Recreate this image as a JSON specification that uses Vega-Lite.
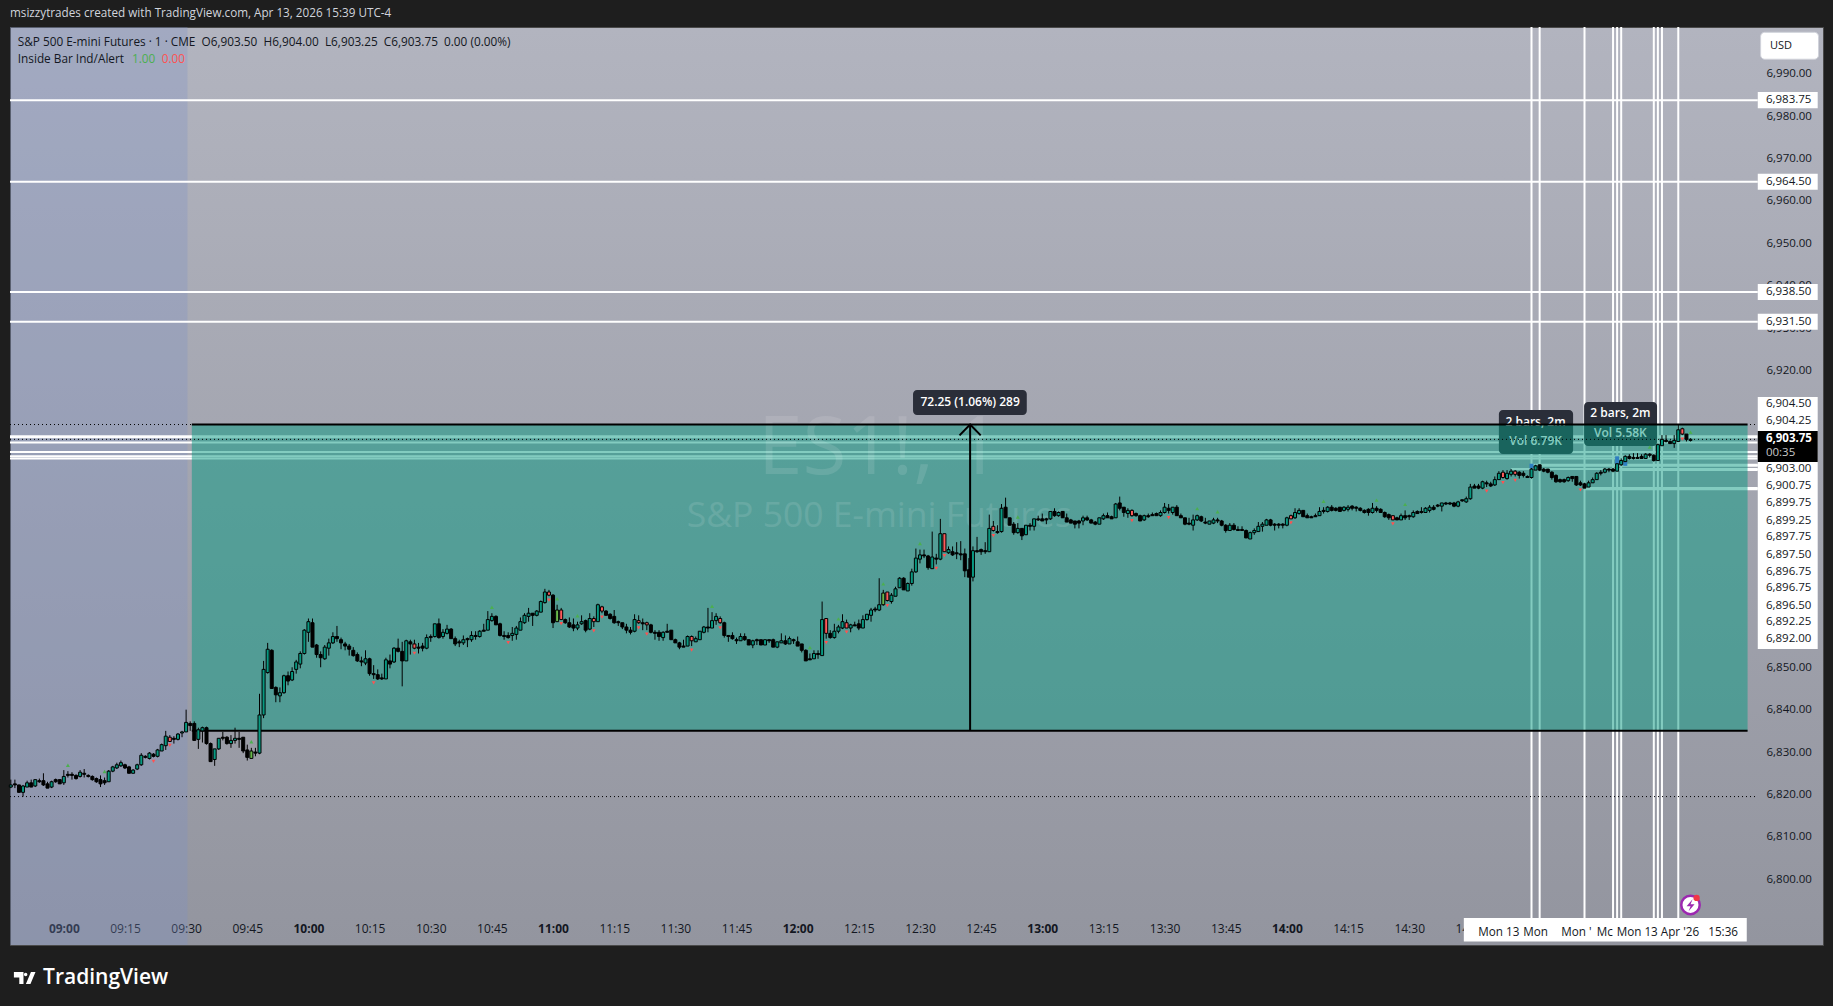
{
"$schema":"https://vega.github.io/schema/vega-lite/v6.json",
"autosize":{"type":"none"},
"padding":{"left":10,"top":27,"right":10,"bottom":61},
"width":1813,"height":918,
"background":"#1e1e1e",
"view":{"stroke":"#4a4a4a","fill":{"gradient":"linear","x1":0,"y1":0,"x2":0,"y2":1,"stops":[{"offset":0,"color":"#b2b4bf"},{"offset":1,"color":"#93959f"}]}},
"config":{"font":"Open Sans","text":{"font":"Open Sans"}},
"title":{"text":"msizzytrades created with TradingView.com, Apr 13, 2026 15:39 UTC-4","anchor":"start","frame":"group","offset":6,"fontSize":11.7,"color":"#d1d4dc","font":"Open Sans","fontWeight":"normal"},
"resolve":{"axis":{"x":"independent","y":"independent"}},
"data":{"format":{"parse":{"t":"utc:'%H:%M'"}},"values":[
{"t":"08:47","o":6821.75,"h":6823.5,"l":6821.5,"c":6822.25},
{"t":"08:48","o":6822.5,"h":6823.5,"l":6821.5,"c":6822.25},
{"t":"08:49","o":6822.25,"h":6822.25,"l":6820.5,"c":6820.5},
{"t":"08:50","o":6820.5,"h":6822.25,"l":6819.5,"c":6822},
{"t":"08:51","o":6821.75,"h":6823.25,"l":6821.75,"c":6822.75},
{"t":"08:52","o":6822.75,"h":6823.5,"l":6821.75,"c":6821.75},
{"t":"08:53","o":6822,"h":6823.5,"l":6821.75,"c":6823.5},
{"t":"08:54","o":6823.25,"h":6823.75,"l":6822.75,"c":6823},
{"t":"08:55","o":6823.25,"h":6825,"l":6822,"c":6822.25},
{"t":"08:56","o":6822.5,"h":6823,"l":6821.5,"c":6821.5},
{"t":"08:57","o":6821.75,"h":6823.25,"l":6821.5,"c":6823},
{"t":"08:58","o":6823.5,"h":6823.75,"l":6822.75,"c":6823},
{"t":"08:59","o":6823.5,"h":6823.5,"l":6822.5,"c":6822.5},
{"t":"09:00","o":6822.75,"h":6825.75,"l":6822.25,"c":6824.25},
{"t":"09:01","o":6824.75,"h":6825.5,"l":6824,"c":6824.5,"m":"g"},
{"t":"09:02","o":6824.75,"h":6825.25,"l":6823.5,"c":6824.5},
{"t":"09:03","o":6824.5,"h":6824.75,"l":6823.5,"c":6823.75},
{"t":"09:04","o":6824.25,"h":6825.75,"l":6824,"c":6825.25},
{"t":"09:05","o":6825,"h":6826,"l":6824,"c":6824.75},
{"t":"09:06","o":6824.5,"h":6824.75,"l":6824,"c":6824.25},
{"t":"09:07","o":6824.25,"h":6824.5,"l":6823.25,"c":6823.5},
{"t":"09:08","o":6823.75,"h":6824,"l":6822.75,"c":6823},
{"t":"09:09","o":6823.5,"h":6824.5,"l":6821.75,"c":6822.5},
{"t":"09:10","o":6823.25,"h":6824,"l":6822.25,"c":6822.75,"m":"g"},
{"t":"09:11","o":6823,"h":6825.75,"l":6823,"c":6825.5},
{"t":"09:12","o":6825.5,"h":6826.75,"l":6825.25,"c":6826.5},
{"t":"09:13","o":6826.25,"h":6827.5,"l":6826,"c":6827},
{"t":"09:14","o":6826.75,"h":6828,"l":6826.5,"c":6827.5},
{"t":"09:15","o":6827,"h":6827.25,"l":6826,"c":6826.25},
{"t":"09:16","o":6826.5,"h":6826.75,"l":6825,"c":6825},
{"t":"09:17","o":6825,"h":6826,"l":6825,"c":6825.75},
{"t":"09:18","o":6826,"h":6827.25,"l":6825.75,"c":6827},
{"t":"09:19","o":6827,"h":6829.75,"l":6826.75,"c":6829.25},
{"t":"09:20","o":6829,"h":6829.25,"l":6828.5,"c":6828.75},
{"t":"09:21","o":6828.5,"h":6830,"l":6828.25,"c":6829.75},
{"t":"09:22","o":6829.5,"h":6829.75,"l":6828.75,"c":6829,"m":"r"},
{"t":"09:23","o":6829,"h":6830.75,"l":6828.75,"c":6830.5},
{"t":"09:24","o":6830.25,"h":6832,"l":6830.25,"c":6831.75},
{"t":"09:25","o":6831.5,"h":6835,"l":6830.5,"c":6833.75},
{"t":"09:26","o":6832.5,"h":6834,"l":6832.5,"c":6833.5,"k":"p","m":"r"},
{"t":"09:27","o":6833.25,"h":6833.75,"l":6832,"c":6833},
{"t":"09:28","o":6833,"h":6834.5,"l":6832.75,"c":6834.25},
{"t":"09:29","o":6834.5,"h":6835,"l":6833.5,"c":6834.75},
{"t":"09:30","o":6834.75,"h":6840,"l":6834.75,"c":6837},
{"t":"09:31","o":6836.75,"h":6837.25,"l":6835,"c":6836.25},
{"t":"09:32","o":6836.75,"h":6837.25,"l":6832.75,"c":6832.75},
{"t":"09:33","o":6833,"h":6835.75,"l":6830.75,"c":6835.25},
{"t":"09:34","o":6835,"h":6836,"l":6832.25,"c":6835.75},
{"t":"09:35","o":6835.75,"h":6836,"l":6831.75,"c":6832},
{"t":"09:36","o":6832,"h":6832.25,"l":6827.75,"c":6827.75},
{"t":"09:37","o":6828.25,"h":6830.75,"l":6826.75,"c":6830.75},
{"t":"09:38","o":6830.75,"h":6833.25,"l":6830.5,"c":6833.25},
{"t":"09:39","o":6833.5,"h":6834.75,"l":6832.75,"c":6833.25},
{"t":"09:40","o":6833.5,"h":6833.75,"l":6831.75,"c":6832},
{"t":"09:41","o":6832,"h":6834,"l":6831,"c":6832.75},
{"t":"09:42","o":6832.75,"h":6835.75,"l":6832,"c":6833.25},
{"t":"09:43","o":6833.25,"h":6834.75,"l":6831,"c":6833},
{"t":"09:44","o":6833.5,"h":6833.5,"l":6829.75,"c":6830.25},
{"t":"09:45","o":6830.5,"h":6831.75,"l":6828,"c":6828.75},
{"t":"09:46","o":6828.5,"h":6831,"l":6828.5,"c":6830.25,"k":"g","m":"g"},
{"t":"09:47","o":6830,"h":6831,"l":6829,"c":6829.75},
{"t":"09:48","o":6829.75,"h":6843.75,"l":6829.5,"c":6838.75},
{"t":"09:49","o":6838.75,"h":6851.5,"l":6838,"c":6849.5},
{"t":"09:50","o":6848.75,"h":6855.75,"l":6848.5,"c":6854.25},
{"t":"09:51","o":6854,"h":6854.25,"l":6845,"c":6845},
{"t":"09:52","o":6845.25,"h":6845.5,"l":6841.75,"c":6843.5},
{"t":"09:53","o":6843.25,"h":6845.25,"l":6841.75,"c":6844},
{"t":"09:54","o":6844,"h":6848.25,"l":6843.75,"c":6848},
{"t":"09:55","o":6848,"h":6849,"l":6845.75,"c":6846.75},
{"t":"09:56","o":6847,"h":6850,"l":6846.75,"c":6849},
{"t":"09:57","o":6849.5,"h":6851.75,"l":6848.5,"c":6851.25},
{"t":"09:58","o":6850.75,"h":6853.75,"l":6849.75,"c":6853.25},
{"t":"09:59","o":6853.25,"h":6859,"l":6853,"c":6858.75},
{"t":"10:00","o":6858.25,"h":6861.5,"l":6856,"c":6860.75},
{"t":"10:01","o":6860.5,"h":6861.5,"l":6854.75,"c":6854.75},
{"t":"10:02","o":6855.25,"h":6855.5,"l":6852.25,"c":6853},
{"t":"10:03","o":6853,"h":6853.75,"l":6850,"c":6852.25},
{"t":"10:04","o":6852,"h":6855.25,"l":6851.75,"c":6854.75},
{"t":"10:05","o":6854.5,"h":6856.75,"l":6852.75,"c":6855.75},
{"t":"10:06","o":6855.75,"h":6858.25,"l":6855.5,"c":6857.25},
{"t":"10:07","o":6857.25,"h":6859.75,"l":6856,"c":6856.75},
{"t":"10:08","o":6856.5,"h":6857,"l":6854.25,"c":6855.75},
{"t":"10:09","o":6855.5,"h":6856,"l":6854,"c":6855},
{"t":"10:10","o":6855,"h":6855.5,"l":6852.75,"c":6854.25},
{"t":"10:11","o":6854,"h":6854.75,"l":6852.5,"c":6852.75},
{"t":"10:12","o":6853,"h":6853.5,"l":6851.25,"c":6851.5},
{"t":"10:13","o":6851.5,"h":6852.5,"l":6850.25,"c":6851.25},
{"t":"10:14","o":6851,"h":6854,"l":6850.5,"c":6852},
{"t":"10:15","o":6852,"h":6852.25,"l":6848,"c":6848.5},
{"t":"10:16","o":6848.5,"h":6850.5,"l":6847.25,"c":6848.25,"m":"r"},
{"t":"10:17","o":6848.25,"h":6849.5,"l":6847,"c":6847.25},
{"t":"10:18","o":6847.5,"h":6848.5,"l":6847,"c":6847.25},
{"t":"10:19","o":6847.25,"h":6852.25,"l":6847.25,"c":6851.75},
{"t":"10:20","o":6851.5,"h":6853,"l":6849.75,"c":6850.75},
{"t":"10:21","o":6851.25,"h":6854.75,"l":6851,"c":6854.5},
{"t":"10:22","o":6854.5,"h":6856.75,"l":6853.5,"c":6853.75},
{"t":"10:23","o":6853.75,"h":6856,"l":6845.5,"c":6851.5},
{"t":"10:24","o":6851.5,"h":6856.5,"l":6851.5,"c":6856.25},
{"t":"10:25","o":6856,"h":6856.5,"l":6853,"c":6855.5},
{"t":"10:26","o":6854.5,"h":6856.5,"l":6854.25,"c":6855.5,"k":"p","m":"r"},
{"t":"10:27","o":6854.75,"h":6855.75,"l":6853.25,"c":6854.5},
{"t":"10:28","o":6855,"h":6855.75,"l":6853.75,"c":6854.5},
{"t":"10:29","o":6854.5,"h":6857.75,"l":6854.25,"c":6857},
{"t":"10:30","o":6857.25,"h":6857.75,"l":6856,"c":6857},
{"t":"10:31","o":6857.25,"h":6860.25,"l":6857,"c":6860.25},
{"t":"10:32","o":6860.25,"h":6861.5,"l":6856.75,"c":6857},
{"t":"10:33","o":6857.25,"h":6859,"l":6856.75,"c":6858.25},
{"t":"10:34","o":6858,"h":6860,"l":6857.75,"c":6859},
{"t":"10:35","o":6859,"h":6859.25,"l":6856.75,"c":6856.75},
{"t":"10:36","o":6856.75,"h":6857.25,"l":6855,"c":6855.5},
{"t":"10:37","o":6856,"h":6856.5,"l":6854.75,"c":6855.75},
{"t":"10:38","o":6855.75,"h":6857.5,"l":6855.25,"c":6856.5},
{"t":"10:39","o":6856.75,"h":6857,"l":6854.75,"c":6856.5},
{"t":"10:40","o":6856.5,"h":6858.5,"l":6856,"c":6857.5},
{"t":"10:41","o":6857.5,"h":6858.5,"l":6856.5,"c":6857.25},
{"t":"10:42","o":6857.25,"h":6858.75,"l":6857,"c":6858.5},
{"t":"10:43","o":6858.75,"h":6860.25,"l":6858.5,"c":6858.5},
{"t":"10:44","o":6858.75,"h":6863.25,"l":6858.75,"c":6861.25},
{"t":"10:45","o":6861,"h":6862.75,"l":6860.75,"c":6862,"m":"g"},
{"t":"10:46","o":6862,"h":6862.25,"l":6860,"c":6860},
{"t":"10:47","o":6860.25,"h":6860.5,"l":6857.25,"c":6857.5},
{"t":"10:48","o":6857.5,"h":6858.5,"l":6856.5,"c":6857.25},
{"t":"10:49","o":6857.5,"h":6858.25,"l":6856.75,"c":6857,"m":"r"},
{"t":"10:50","o":6857.5,"h":6859.5,"l":6856.25,"c":6858},
{"t":"10:51","o":6857.75,"h":6859.75,"l":6856.5,"c":6859.25},
{"t":"10:52","o":6858.75,"h":6861.75,"l":6858.75,"c":6860.75},
{"t":"10:53","o":6860.5,"h":6862.75,"l":6860.25,"c":6862.25},
{"t":"10:54","o":6862,"h":6864,"l":6860.75,"c":6862.75},
{"t":"10:55","o":6862.75,"h":6862.75,"l":6859.75,"c":6862.25},
{"t":"10:56","o":6862.25,"h":6863.5,"l":6862,"c":6863.25},
{"t":"10:57","o":6863,"h":6865.75,"l":6863,"c":6865.5},
{"t":"10:58","o":6865.25,"h":6868.5,"l":6865,"c":6867.75},
{"t":"10:59","o":6867,"h":6868.25,"l":6866.75,"c":6867.75,"k":"p","m":"r"},
{"t":"11:00","o":6867,"h":6867.25,"l":6859.25,"c":6860.5},
{"t":"11:01","o":6860.75,"h":6864.75,"l":6860.75,"c":6863.5,"k":"g","m":"g"},
{"t":"11:02","o":6861.25,"h":6864,"l":6861.25,"c":6863.5,"k":"p","m":"r"},
{"t":"11:03","o":6861.25,"h":6861.5,"l":6860.25,"c":6860.5},
{"t":"11:04","o":6860.5,"h":6861.75,"l":6859.25,"c":6859.5},
{"t":"11:05","o":6860,"h":6861.5,"l":6858.5,"c":6859.25},
{"t":"11:06","o":6859.25,"h":6860.75,"l":6858.75,"c":6860,"m":"g"},
{"t":"11:07","o":6860.25,"h":6862.25,"l":6860,"c":6860.75},
{"t":"11:08","o":6861,"h":6861.25,"l":6858.25,"c":6858.75},
{"t":"11:09","o":6859,"h":6862.75,"l":6858.75,"c":6861.5},
{"t":"11:10","o":6860.75,"h":6862,"l":6859.5,"c":6861.5,"k":"p","m":"r"},
{"t":"11:11","o":6860.75,"h":6865,"l":6860.75,"c":6864.75},
{"t":"11:12","o":6863.25,"h":6864.5,"l":6862.75,"c":6864.25,"k":"p","m":"r"},
{"t":"11:13","o":6863.25,"h":6863.5,"l":6862.25,"c":6862.25},
{"t":"11:14","o":6862.5,"h":6862.75,"l":6861.25,"c":6861.5},
{"t":"11:15","o":6862,"h":6863.5,"l":6860.25,"c":6860.5},
{"t":"11:16","o":6860.75,"h":6861,"l":6859.75,"c":6860.5},
{"t":"11:17","o":6860.5,"h":6860.5,"l":6859,"c":6859.5},
{"t":"11:18","o":6859.5,"h":6860.25,"l":6858,"c":6858.75},
{"t":"11:19","o":6858.75,"h":6859.5,"l":6857.75,"c":6858.25},
{"t":"11:20","o":6858.5,"h":6862.5,"l":6858.25,"c":6861.25},
{"t":"11:21","o":6860.5,"h":6862.25,"l":6860.25,"c":6861,"k":"p","m":"r"},
{"t":"11:22","o":6860.5,"h":6861.5,"l":6858.75,"c":6860.25},
{"t":"11:23","o":6860,"h":6860.75,"l":6858.75,"c":6860.5,"k":"p","m":"r"},
{"t":"11:24","o":6860,"h":6860.25,"l":6858,"c":6858.25},
{"t":"11:25","o":6858.25,"h":6858.75,"l":6856.5,"c":6858},
{"t":"11:26","o":6858.25,"h":6858.75,"l":6856.25,"c":6857.25},
{"t":"11:27","o":6857,"h":6858.5,"l":6856.25,"c":6858.25},
{"t":"11:28","o":6858.5,"h":6860.25,"l":6858.25,"c":6858.25},
{"t":"11:29","o":6858.75,"h":6858.75,"l":6856.5,"c":6856.5},
{"t":"11:30","o":6856.5,"h":6856.75,"l":6855.75,"c":6855.75},
{"t":"11:31","o":6855.75,"h":6856,"l":6854.25,"c":6854.75},
{"t":"11:32","o":6855,"h":6856.5,"l":6854.75,"c":6854.75},
{"t":"11:33","o":6855,"h":6857.5,"l":6855,"c":6857.25},
{"t":"11:34","o":6856.25,"h":6857.5,"l":6855,"c":6857.25,"k":"p","m":"r"},
{"t":"11:35","o":6856,"h":6857.25,"l":6856,"c":6856.75},
{"t":"11:36","o":6856.5,"h":6858.5,"l":6856.5,"c":6858.5},
{"t":"11:37","o":6858.25,"h":6859.75,"l":6858,"c":6859.5},
{"t":"11:38","o":6859.5,"h":6864,"l":6858.25,"c":6859.25},
{"t":"11:39","o":6859.25,"h":6863,"l":6859.25,"c":6861,"m":"g"},
{"t":"11:40","o":6861,"h":6862.75,"l":6860,"c":6862},
{"t":"11:41","o":6860.5,"h":6862,"l":6860.25,"c":6861.5,"k":"p","m":"r"},
{"t":"11:42","o":6860.5,"h":6860.75,"l":6857,"c":6857.5},
{"t":"11:43","o":6857.5,"h":6857.5,"l":6856,"c":6857.25},
{"t":"11:44","o":6857.5,"h":6858.25,"l":6856.5,"c":6856.75},
{"t":"11:45","o":6856.5,"h":6857,"l":6855.5,"c":6856.25},
{"t":"11:46","o":6856.25,"h":6858,"l":6856.25,"c":6857.25},
{"t":"11:47","o":6857.25,"h":6858,"l":6856.25,"c":6856.5},
{"t":"11:48","o":6856.5,"h":6856.5,"l":6855.25,"c":6855.25},
{"t":"11:49","o":6855.25,"h":6856.5,"l":6854.5,"c":6856.25},
{"t":"11:50","o":6856.5,"h":6856.75,"l":6855.25,"c":6856.25},
{"t":"11:51","o":6856.5,"h":6856.5,"l":6855.25,"c":6855.25},
{"t":"11:52","o":6855.25,"h":6856.5,"l":6855.25,"c":6856.5},
{"t":"11:53","o":6856.5,"h":6856.5,"l":6855.75,"c":6856.25},
{"t":"11:54","o":6856.5,"h":6856.75,"l":6854.75,"c":6854.75},
{"t":"11:55","o":6854.75,"h":6856,"l":6854.5,"c":6856},
{"t":"11:56","o":6855.75,"h":6858,"l":6855.75,"c":6856.25},
{"t":"11:57","o":6856.25,"h":6857.5,"l":6855.25,"c":6855.5},
{"t":"11:58","o":6855.5,"h":6857.25,"l":6855.5,"c":6856.75},
{"t":"11:59","o":6856.5,"h":6856.75,"l":6855.5,"c":6856.25},
{"t":"12:00","o":6856,"h":6857.25,"l":6855,"c":6855},
{"t":"12:01","o":6855.5,"h":6855.5,"l":6853.5,"c":6854},
{"t":"12:02","o":6854,"h":6854.25,"l":6851.5,"c":6851.5},
{"t":"12:03","o":6852,"h":6853.25,"l":6851.75,"c":6851.75,"m":"g"},
{"t":"12:04","o":6852,"h":6854,"l":6852,"c":6853.25},
{"t":"12:05","o":6853.25,"h":6854,"l":6852,"c":6853},
{"t":"12:06","o":6852.75,"h":6865.5,"l":6852.75,"c":6861.25},
{"t":"12:07","o":6858,"h":6861.5,"l":6856.75,"c":6861.5,"k":"p","m":"r"},
{"t":"12:08","o":6858,"h":6858.75,"l":6856.75,"c":6857},
{"t":"12:09","o":6857,"h":6860.25,"l":6856.75,"c":6858.5},
{"t":"12:10","o":6858.5,"h":6860,"l":6858,"c":6859.5,"m":"g"},
{"t":"12:11","o":6859.25,"h":6862.5,"l":6859,"c":6860.75},
{"t":"12:12","o":6859.25,"h":6861.25,"l":6859.25,"c":6860.5,"k":"p","m":"r"},
{"t":"12:13","o":6859.25,"h":6860.25,"l":6858.25,"c":6860},
{"t":"12:14","o":6860,"h":6860.75,"l":6859.75,"c":6859.75},
{"t":"12:15","o":6860.25,"h":6861.25,"l":6858.75,"c":6859.25},
{"t":"12:16","o":6859.25,"h":6862.25,"l":6859.25,"c":6861.25},
{"t":"12:17","o":6861.25,"h":6862.5,"l":6861,"c":6862.5},
{"t":"12:18","o":6862.25,"h":6864,"l":6860.75,"c":6863.5},
{"t":"12:19","o":6863.75,"h":6864.25,"l":6863,"c":6863.5},
{"t":"12:20","o":6863.5,"h":6871,"l":6863.25,"c":6864.75},
{"t":"12:21","o":6864.75,"h":6868.25,"l":6864.5,"c":6867.5,"k":"g","m":"g"},
{"t":"12:22","o":6865.75,"h":6867.75,"l":6865.5,"c":6867.75,"k":"p","m":"r"},
{"t":"12:23","o":6865.5,"h":6867.5,"l":6865,"c":6867},
{"t":"12:24","o":6866.75,"h":6869,"l":6866.75,"c":6868.5},
{"t":"12:25","o":6868.75,"h":6871.25,"l":6868.75,"c":6871},
{"t":"12:26","o":6871,"h":6871.25,"l":6868.25,"c":6868.25},
{"t":"12:27","o":6868,"h":6870,"l":6868,"c":6869.75},
{"t":"12:28","o":6869.75,"h":6873.25,"l":6869.25,"c":6872.5},
{"t":"12:29","o":6872.5,"h":6878,"l":6872.25,"c":6875.75},
{"t":"12:30","o":6875.5,"h":6877.75,"l":6874.5,"c":6876.5,"m":"g"},
{"t":"12:31","o":6876.5,"h":6877.75,"l":6875.75,"c":6876.25},
{"t":"12:32","o":6876.25,"h":6876.5,"l":6873,"c":6873.5},
{"t":"12:33","o":6873.25,"h":6882,"l":6873.25,"c":6876},
{"t":"12:34","o":6875.75,"h":6876.75,"l":6874.25,"c":6875.5,"m":"r"},
{"t":"12:35","o":6875.5,"h":6885,"l":6875.25,"c":6881.5},
{"t":"12:36","o":6877.25,"h":6881.5,"l":6877.25,"c":6881.5,"k":"p","m":"r"},
{"t":"12:37","o":6877,"h":6878.5,"l":6876.75,"c":6877.75},
{"t":"12:38","o":6877.25,"h":6878.5,"l":6876.25,"c":6876.5},
{"t":"12:39","o":6877,"h":6879.5,"l":6875.5,"c":6876.75},
{"t":"12:40","o":6876.75,"h":6879.75,"l":6875.25,"c":6876.5},
{"t":"12:41","o":6876.75,"h":6878,"l":6871.25,"c":6872.75},
{"t":"12:42","o":6873,"h":6875.75,"l":6871.25,"c":6871.25},
{"t":"12:43","o":6871.25,"h":6878.5,"l":6870.25,"c":6877.5},
{"t":"12:44","o":6877.5,"h":6880.75,"l":6877,"c":6877.25},
{"t":"12:45","o":6877.75,"h":6878,"l":6876.5,"c":6877.25},
{"t":"12:46","o":6877.5,"h":6879.5,"l":6876.75,"c":6877.25},
{"t":"12:47","o":6877.25,"h":6886,"l":6877.25,"c":6882.75},
{"t":"12:48","o":6882.25,"h":6884.5,"l":6882,"c":6883.25,"k":"p","m":"r"},
{"t":"12:49","o":6882,"h":6883.5,"l":6881.5,"c":6881.75},
{"t":"12:50","o":6882,"h":6888.5,"l":6881.75,"c":6887.5},
{"t":"12:51","o":6887.75,"h":6890,"l":6885.25,"c":6885.25},
{"t":"12:52","o":6885.25,"h":6885.25,"l":6883.5,"c":6883.5},
{"t":"12:53","o":6883.75,"h":6884.25,"l":6881.25,"c":6881.75},
{"t":"12:54","o":6881.75,"h":6884,"l":6881.5,"c":6882.75,"m":"g"},
{"t":"12:55","o":6882.75,"h":6882.75,"l":6880,"c":6881},
{"t":"12:56","o":6881.25,"h":6883.5,"l":6881.25,"c":6883.5},
{"t":"12:57","o":6883.5,"h":6884,"l":6882.25,"c":6883.25},
{"t":"12:58","o":6883.25,"h":6885,"l":6882.25,"c":6885},
{"t":"12:59","o":6885,"h":6885.75,"l":6884.5,"c":6884.75},
{"t":"13:00","o":6885,"h":6886.25,"l":6884.5,"c":6884.5},
{"t":"13:01","o":6885,"h":6885.25,"l":6883.75,"c":6884.75},
{"t":"13:02","o":6885,"h":6886.75,"l":6884.75,"c":6886.75},
{"t":"13:03","o":6886.75,"h":6887.5,"l":6885.5,"c":6885.75},
{"t":"13:04","o":6885.75,"h":6886.75,"l":6885.5,"c":6886.5},
{"t":"13:05","o":6886.75,"h":6886.75,"l":6885.25,"c":6885.25},
{"t":"13:06","o":6885.25,"h":6886.25,"l":6884.25,"c":6884.25},
{"t":"13:07","o":6884.75,"h":6885,"l":6884,"c":6884},
{"t":"13:08","o":6884.5,"h":6884.5,"l":6882.75,"c":6883.75},
{"t":"13:09","o":6884.5,"h":6884.75,"l":6882.75,"c":6884},
{"t":"13:10","o":6884.5,"h":6885.75,"l":6883.5,"c":6885.25},
{"t":"13:11","o":6885.25,"h":6885.75,"l":6884.5,"c":6884.75},
{"t":"13:12","o":6884.75,"h":6885,"l":6884,"c":6884},
{"t":"13:13","o":6884.25,"h":6884.5,"l":6883.5,"c":6883.75},
{"t":"13:14","o":6883.75,"h":6885.25,"l":6883.75,"c":6885.25},
{"t":"13:15","o":6885,"h":6886.25,"l":6884.75,"c":6885.75},
{"t":"13:16","o":6885.75,"h":6886.5,"l":6885.25,"c":6885.25},
{"t":"13:17","o":6885.5,"h":6885.75,"l":6885,"c":6885},
{"t":"13:18","o":6885.25,"h":6888.75,"l":6885.25,"c":6888.5},
{"t":"13:19","o":6888.75,"h":6890.25,"l":6887,"c":6887.5},
{"t":"13:20","o":6887.75,"h":6887.75,"l":6885.5,"c":6886.5},
{"t":"13:21","o":6886.25,"h":6887.5,"l":6885.25,"c":6887},
{"t":"13:22","o":6885.75,"h":6887.25,"l":6885.5,"c":6887,"k":"p","m":"r"},
{"t":"13:23","o":6886.25,"h":6886.5,"l":6885.5,"c":6885.75},
{"t":"13:24","o":6885.75,"h":6886,"l":6884.5,"c":6884.5},
{"t":"13:25","o":6884.75,"h":6886,"l":6884.5,"c":6885.75},
{"t":"13:26","o":6885.75,"h":6886.25,"l":6885.25,"c":6885.5},
{"t":"13:27","o":6886,"h":6886.5,"l":6885.75,"c":6885.75},
{"t":"13:28","o":6886.25,"h":6886.5,"l":6885.75,"c":6885.75},
{"t":"13:29","o":6885.75,"h":6887,"l":6885.5,"c":6886.5},
{"t":"13:30","o":6886.5,"h":6888.75,"l":6886.25,"c":6887.75},
{"t":"13:31","o":6887.5,"h":6888.5,"l":6886.25,"c":6887,"m":"r"},
{"t":"13:32","o":6886.5,"h":6887.75,"l":6886,"c":6887.75},
{"t":"13:33","o":6887.75,"h":6888.25,"l":6885.75,"c":6885.75},
{"t":"13:34","o":6885.75,"h":6886.25,"l":6885.25,"c":6885.25},
{"t":"13:35","o":6885.25,"h":6885.25,"l":6883.5,"c":6883.75},
{"t":"13:36","o":6884,"h":6885.25,"l":6883.5,"c":6883.75},
{"t":"13:37","o":6883.5,"h":6886,"l":6882.25,"c":6884.75},
{"t":"13:38","o":6884.75,"h":6886,"l":6884.5,"c":6885.75,"m":"g"},
{"t":"13:39","o":6885.5,"h":6885.75,"l":6884.25,"c":6884.5},
{"t":"13:40","o":6884.25,"h":6885.25,"l":6883.75,"c":6884},
{"t":"13:41","o":6883.75,"h":6884.5,"l":6883.75,"c":6884.5},
{"t":"13:42","o":6884,"h":6885.25,"l":6883.75,"c":6884.75},
{"t":"13:43","o":6884.75,"h":6885.25,"l":6884,"c":6884.5,"m":"g"},
{"t":"13:44","o":6884.5,"h":6884.75,"l":6883.25,"c":6883.5},
{"t":"13:45","o":6883.5,"h":6883.75,"l":6881.75,"c":6882.25},
{"t":"13:46","o":6882.25,"h":6884,"l":6882.25,"c":6883.5},
{"t":"13:47","o":6883.5,"h":6884,"l":6882.25,"c":6882.5},
{"t":"13:48","o":6882.5,"h":6883.25,"l":6882.25,"c":6882.25},
{"t":"13:49","o":6882.5,"h":6883.25,"l":6882.25,"c":6882.25},
{"t":"13:50","o":6882.25,"h":6882.5,"l":6880.5,"c":6880.5},
{"t":"13:51","o":6880.25,"h":6882,"l":6880.25,"c":6881.75},
{"t":"13:52","o":6881.75,"h":6882.75,"l":6881.25,"c":6882.25},
{"t":"13:53","o":6882,"h":6884.25,"l":6882,"c":6883.25},
{"t":"13:54","o":6883.25,"h":6884.25,"l":6882,"c":6883.75},
{"t":"13:55","o":6883.5,"h":6885,"l":6883.5,"c":6884.75},
{"t":"13:56","o":6884.75,"h":6885,"l":6883.25,"c":6883.5},
{"t":"13:57","o":6883.75,"h":6884,"l":6882.25,"c":6883.5},
{"t":"13:58","o":6883.75,"h":6884,"l":6882.75,"c":6883.5},
{"t":"13:59","o":6883.75,"h":6884,"l":6882.75,"c":6883.5},
{"t":"14:00","o":6883.5,"h":6885.5,"l":6883.25,"c":6885.25},
{"t":"14:01","o":6885,"h":6886,"l":6885,"c":6885.75,"k":"p","m":"r"},
{"t":"14:02","o":6885.25,"h":6887.5,"l":6885,"c":6886.5},
{"t":"14:03","o":6886.25,"h":6887.5,"l":6886,"c":6887},
{"t":"14:04","o":6887,"h":6887,"l":6885.5,"c":6885.5},
{"t":"14:05","o":6885.75,"h":6886.25,"l":6885.25,"c":6885.25},
{"t":"14:06","o":6885.5,"h":6885.75,"l":6885.25,"c":6885.25},
{"t":"14:07","o":6885.75,"h":6886.25,"l":6885.5,"c":6885.5},
{"t":"14:08","o":6885.75,"h":6887.75,"l":6885.75,"c":6886.75},
{"t":"14:09","o":6887,"h":6887.75,"l":6886.25,"c":6886.75,"m":"g"},
{"t":"14:10","o":6886.75,"h":6888,"l":6886.5,"c":6887.75},
{"t":"14:11","o":6887.75,"h":6888.25,"l":6886.75,"c":6887},
{"t":"14:12","o":6887.5,"h":6887.75,"l":6886.75,"c":6887},
{"t":"14:13","o":6887.75,"h":6887.75,"l":6886.75,"c":6886.75},
{"t":"14:14","o":6887,"h":6888,"l":6886.75,"c":6887.75},
{"t":"14:15","o":6887.25,"h":6888.25,"l":6886.75,"c":6887.75},
{"t":"14:16","o":6888,"h":6888.25,"l":6887,"c":6887.5},
{"t":"14:17","o":6887.75,"h":6888,"l":6886.75,"c":6887.5},
{"t":"14:18","o":6887.5,"h":6887.75,"l":6886.75,"c":6887},
{"t":"14:19","o":6887,"h":6887.25,"l":6886.25,"c":6886.5},
{"t":"14:20","o":6887.25,"h":6887.5,"l":6885.75,"c":6886.5},
{"t":"14:21","o":6886.5,"h":6888.75,"l":6886.25,"c":6887.5},
{"t":"14:22","o":6887.5,"h":6888,"l":6886.5,"c":6887,"m":"g"},
{"t":"14:23","o":6887.25,"h":6887.5,"l":6886.5,"c":6886.5},
{"t":"14:24","o":6886.5,"h":6886.75,"l":6885.25,"c":6885.5},
{"t":"14:25","o":6886,"h":6886.25,"l":6884.75,"c":6885.25},
{"t":"14:26","o":6884.75,"h":6885.75,"l":6884.75,"c":6885.75,"k":"p","m":"r"},
{"t":"14:27","o":6885.25,"h":6885.5,"l":6884.75,"c":6884.75},
{"t":"14:28","o":6884.75,"h":6886.25,"l":6884.75,"c":6885.75},
{"t":"14:29","o":6885.75,"h":6887,"l":6884.75,"c":6885.25,"m":"g"},
{"t":"14:30","o":6885.75,"h":6886,"l":6884.75,"c":6885.5},
{"t":"14:31","o":6885.5,"h":6887,"l":6885.25,"c":6886.5},
{"t":"14:32","o":6886.75,"h":6887,"l":6886.25,"c":6886.25},
{"t":"14:33","o":6886.75,"h":6887.75,"l":6886.25,"c":6886.5},
{"t":"14:34","o":6886.5,"h":6887.75,"l":6886.5,"c":6887.5},
{"t":"14:35","o":6887,"h":6888.25,"l":6886.5,"c":6887.75},
{"t":"14:36","o":6887.75,"h":6888.25,"l":6887,"c":6887.25},
{"t":"14:37","o":6888.25,"h":6888.5,"l":6887.75,"c":6888},
{"t":"14:38","o":6888,"h":6888.75,"l":6886.75,"c":6888.75},
{"t":"14:39","o":6888.75,"h":6889,"l":6888.25,"c":6888.5},
{"t":"14:40","o":6888.75,"h":6889,"l":6888.25,"c":6888.5},
{"t":"14:41","o":6888.75,"h":6889,"l":6887.75,"c":6888},
{"t":"14:42","o":6888,"h":6889.25,"l":6887.75,"c":6889},
{"t":"14:43","o":6889.5,"h":6889.5,"l":6889,"c":6889.25},
{"t":"14:44","o":6889,"h":6890.25,"l":6888.75,"c":6889.75},
{"t":"14:45","o":6889.75,"h":6893.25,"l":6889.5,"c":6892.5},
{"t":"14:46","o":6892.75,"h":6893.25,"l":6892.25,"c":6892.25},
{"t":"14:47","o":6892.75,"h":6893.25,"l":6892,"c":6892.25},
{"t":"14:48","o":6892.25,"h":6894,"l":6892,"c":6893.75},
{"t":"14:49","o":6893.5,"h":6894,"l":6892.5,"c":6893.25,"m":"r"},
{"t":"14:50","o":6893.25,"h":6893.75,"l":6892.5,"c":6892.75},
{"t":"14:51","o":6893,"h":6895,"l":6892.75,"c":6894.25},
{"t":"14:52","o":6894.25,"h":6896.25,"l":6894.25,"c":6895.75},
{"t":"14:53","o":6894.75,"h":6896.5,"l":6894.5,"c":6896,"k":"p","m":"r"},
{"t":"14:54","o":6894.5,"h":6896.5,"l":6894.25,"c":6895.75},
{"t":"14:55","o":6895.5,"h":6896.75,"l":6895,"c":6896.25},
{"t":"14:56","o":6895.5,"h":6896.5,"l":6895,"c":6896.25,"k":"p","m":"r"},
{"t":"14:57","o":6896,"h":6896.25,"l":6894.5,"c":6895.25},
{"t":"14:58","o":6895.75,"h":6896.25,"l":6894.75,"c":6895.25},
{"t":"14:59","o":6895,"h":6895.25,"l":6894.75,"c":6894.75},
{"t":"15:00","o":6894.75,"h":6897,"l":6894.5,"c":6896.75},
{"t":"15:01","o":6896.5,"h":6897.75,"l":6896.5,"c":6897.5},
{"t":"15:02","o":6897.75,"h":6897.75,"l":6896.25,"c":6896.5},
{"t":"15:03","o":6896.75,"h":6897,"l":6896,"c":6896.25},
{"t":"15:04","o":6896.75,"h":6896.75,"l":6895.75,"c":6896},
{"t":"15:05","o":6896,"h":6896.25,"l":6894.25,"c":6894.75},
{"t":"15:06","o":6895.25,"h":6895.5,"l":6893.5,"c":6893.75},
{"t":"15:07","o":6894.25,"h":6894.5,"l":6893.5,"c":6893.75},
{"t":"15:08","o":6894.25,"h":6894.5,"l":6893.5,"c":6893.75},
{"t":"15:09","o":6894,"h":6895,"l":6893.75,"c":6894.75},
{"t":"15:10","o":6895,"h":6895,"l":6893.75,"c":6894.5},
{"t":"15:11","o":6895,"h":6895,"l":6892.75,"c":6893},
{"t":"15:12","o":6893.5,"h":6894,"l":6892.75,"c":6893,"m":"r"},
{"t":"15:13","o":6893.25,"h":6893.5,"l":6892.25,"c":6892.25},
{"t":"15:14","o":6892.5,"h":6894,"l":6892.5,"c":6893.5},
{"t":"15:15","o":6893.5,"h":6894.75,"l":6893.5,"c":6894.25},
{"t":"15:16","o":6894.25,"h":6896,"l":6894.25,"c":6895.75},
{"t":"15:17","o":6896,"h":6896.5,"l":6895.25,"c":6895.75},
{"t":"15:18","o":6896,"h":6897,"l":6895.75,"c":6896.75},
{"t":"15:19","o":6896.75,"h":6897,"l":6896,"c":6896.5},
{"t":"15:20","o":6896.75,"h":6897,"l":6896,"c":6896.25},
{"t":"15:21","o":6896.25,"h":6898,"l":6896.25,"c":6898},
{"t":"15:22","o":6897.75,"h":6899.25,"l":6897.5,"c":6898.75},
{"t":"15:23","o":6898.5,"h":6900,"l":6898.5,"c":6899.75},
{"t":"15:24","o":6899.75,"h":6900.25,"l":6899,"c":6899.25},
{"t":"15:25","o":6899.5,"h":6900.5,"l":6899,"c":6899.25},
{"t":"15:26","o":6899.5,"h":6900.5,"l":6899.25,"c":6899.25},
{"t":"15:27","o":6899.75,"h":6900.25,"l":6899.25,"c":6899.25},
{"t":"15:28","o":6899.25,"h":6900.5,"l":6899.25,"c":6900.25},
{"t":"15:29","o":6900.25,"h":6900.5,"l":6899.5,"c":6900,"m":"g"},
{"t":"15:30","o":6900,"h":6900.25,"l":6898.5,"c":6898.75},
{"t":"15:31","o":6898.75,"h":6902.75,"l":6898.75,"c":6902.5},
{"t":"15:32","o":6902.25,"h":6904.75,"l":6902.25,"c":6903.75},
{"t":"15:33","o":6903.5,"h":6904.75,"l":6903,"c":6903.25},
{"t":"15:34","o":6903.25,"h":6903.5,"l":6902.75,"c":6902.75},
{"t":"15:35","o":6902.75,"h":6904.75,"l":6901.75,"c":6903.5},
{"t":"15:36","o":6903.25,"h":6907.25,"l":6903.25,"c":6906},
{"t":"15:37","o":6905,"h":6906.5,"l":6904.75,"c":6906.25,"k":"p","m":"r"},
{"t":"15:38","o":6905,"h":6905,"l":6903.25,"c":6903.75},
{"t":"15:39","o":6903.5,"h":6904,"l":6903.25,"c":6903.75,"m":"g"}
]},
"layer":[
{"data":{"format":{"parse":{"a":"utc:'%H:%M:%S'","b":"utc:'%H:%M:%S'"}},"values":[{"a":"08:46:48","b":"09:30:20"}]},
 "mark":{"type":"rect","color":"#7f92c8","opacity":0.3},
 "encoding":{
  "x":{"field":"a","type":"temporal","title":null,
   "scale":{"type":"utc","nice":false,"padding":0,"domain":[{"year":1900,"month":1,"date":1,"hours":8,"minutes":46,"seconds":48,"utc":true},{"year":1900,"month":1,"date":1,"hours":16,"minutes":11,"seconds":30,"utc":true}]},
   "axis":{"orient":"bottom","offset":-22,"domain":false,"ticks":false,"grid":false,"values":[{"year":1900,"month":1,"date":1,"hours":9,"minutes":0,"utc":true},{"year":1900,"month":1,"date":1,"hours":9,"minutes":15,"utc":true},{"year":1900,"month":1,"date":1,"hours":9,"minutes":30,"utc":true},{"year":1900,"month":1,"date":1,"hours":9,"minutes":45,"utc":true},{"year":1900,"month":1,"date":1,"hours":10,"minutes":0,"utc":true},{"year":1900,"month":1,"date":1,"hours":10,"minutes":15,"utc":true},{"year":1900,"month":1,"date":1,"hours":10,"minutes":30,"utc":true},{"year":1900,"month":1,"date":1,"hours":10,"minutes":45,"utc":true},{"year":1900,"month":1,"date":1,"hours":11,"minutes":0,"utc":true},{"year":1900,"month":1,"date":1,"hours":11,"minutes":15,"utc":true},{"year":1900,"month":1,"date":1,"hours":11,"minutes":30,"utc":true},{"year":1900,"month":1,"date":1,"hours":11,"minutes":45,"utc":true},{"year":1900,"month":1,"date":1,"hours":12,"minutes":0,"utc":true},{"year":1900,"month":1,"date":1,"hours":12,"minutes":15,"utc":true},{"year":1900,"month":1,"date":1,"hours":12,"minutes":30,"utc":true},{"year":1900,"month":1,"date":1,"hours":12,"minutes":45,"utc":true},{"year":1900,"month":1,"date":1,"hours":13,"minutes":0,"utc":true},{"year":1900,"month":1,"date":1,"hours":13,"minutes":15,"utc":true},{"year":1900,"month":1,"date":1,"hours":13,"minutes":30,"utc":true},{"year":1900,"month":1,"date":1,"hours":13,"minutes":45,"utc":true},{"year":1900,"month":1,"date":1,"hours":14,"minutes":0,"utc":true},{"year":1900,"month":1,"date":1,"hours":14,"minutes":15,"utc":true},{"year":1900,"month":1,"date":1,"hours":14,"minutes":30,"utc":true},{"year":1900,"month":1,"date":1,"hours":14,"minutes":45,"utc":true}],"labelPadding":0,"labelColor":"#131722","labelFontSize":12,"labelFont":"Open Sans","labelFontWeight":{"condition":{"test":"utcminutes(datum.value)==0","value":"bold"},"value":"normal"},"labelExpr":"utcFormat(datum.value,'%H:%M')"}},
  "x2":{"field":"b"}}},
{"data":{"values":[{"p":6800}]},"mark":{"type":"rule","opacity":0},
 "encoding":{"y":{"field":"p","type":"quantitative","title":null,
   "scale":{"domain":[6784.5,7001],"nice":false,"zero":false},
   "axis":{"orient":"right","offset":-57,"domain":false,"ticks":false,"grid":false,"values":[6800,6810,6820,6830,6840,6850,6920,6930,6940,6950,6960,6970,6980,6990],"format":",.2f","labelPadding":0,"labelColor":"#131722","labelFontSize":11.5,"labelFont":"Open Sans","labelAlign":"left"}}}},
{"data":{"format":{"parse":{"a":"utc:'%H:%M:%S'","b":"utc:'%H:%M:%S'"}},"values":[
 {"p":6983.75,"a":"08:46:48","b":"15:55:30"},{"p":6964.5,"a":"08:46:48","b":"15:55:30"},{"p":6938.5,"a":"08:46:48","b":"15:55:30"},{"p":6931.5,"a":"08:46:48","b":"15:55:30"},
 {"p":6904.5,"a":"08:46:48","b":"15:55:30"},{"p":6904.25,"a":"08:46:48","b":"15:55:30"},{"p":6903,"a":"08:46:48","b":"15:55:30"},{"p":6900.75,"a":"08:46:48","b":"15:55:30"},{"p":6899.75,"a":"08:46:48","b":"15:55:30"},{"p":6899.25,"a":"08:46:48","b":"15:55:30"},
 {"p":6897.75,"a":"15:00:00","b":"15:55:30"},{"p":6897.5,"a":"15:02:00","b":"15:55:30"},{"p":6896.75,"a":"14:55:00","b":"15:55:30"},{"p":6896.5,"a":"15:20:00","b":"15:55:30"},{"p":6892.25,"a":"15:13:00","b":"15:55:30"},{"p":6892,"a":"15:13:00","b":"15:55:30"}]},
 "mark":{"type":"rule","color":"#ffffff","strokeWidth":2},
 "encoding":{"x":{"field":"a","type":"temporal","axis":null},"x2":{"field":"b"},"y":{"field":"p","type":"quantitative","axis":null}}},
{"data":{"format":{"parse":{"t":"utc:'%H:%M'"}},"values":[{"t":"15:00"},{"t":"15:02"},{"t":"15:13"},{"t":"15:20"},{"t":"15:21"},{"t":"15:22"},{"t":"15:30"},{"t":"15:31"},{"t":"15:32"},{"t":"15:36"}]},
 "mark":{"type":"rule","color":"#ffffff","strokeWidth":2},
 "encoding":{"x":{"field":"t","type":"temporal","axis":null},"y":{"datum":7001,"type":"quantitative","axis":null},"y2":{"datum":6790.85}}},
{"data":{"format":{"parse":{"a":"utc:'%H:%M:%S'","b":"utc:'%H:%M:%S'"}},"values":[
 {"a":"14:52:00","b":"15:10:12","p0":6900.3,"p1":6910.65},{"a":"15:12:54","b":"15:30:48","p0":6902.2,"p1":6912.55},{"a":"12:28:18","b":"12:56:12","p0":6909.5,"p1":6915.4}]},
 "mark":{"type":"rect","color":"#2a2e39","cornerRadius":4},
 "encoding":{"x":{"field":"a","type":"temporal","axis":null},"x2":{"field":"b"},"y":{"field":"p0","type":"quantitative","axis":null},"y2":{"field":"p1"}}},
{"data":{"format":{"parse":{"t":"utc:'%H:%M:%S'"}},"values":[
 {"t":"15:01:00","p":6907.9,"s":"2 bars, 2m"},{"t":"15:01:00","p":6903.35,"s":"Vol 6.79K"},{"t":"15:21:48","p":6909.95,"s":"2 bars, 2m"},{"t":"15:21:48","p":6905.2,"s":"Vol 5.58K"},{"t":"12:42:18","p":6912.55,"s":"72.25 (1.06%) 289"}]},
 "mark":{"type":"text","color":"#ffffff","fontSize":12,"fontWeight":600,"align":"center","baseline":"middle"},
 "encoding":{"x":{"field":"t","type":"temporal","axis":null},"y":{"field":"p","type":"quantitative","axis":null},"text":{"field":"s"}}},
{"data":{"format":{"parse":{"a":"utc:'%H:%M:%S'","b":"utc:'%H:%M:%S'"}},"values":[{"a":"09:31:24","b":"15:53:00","p0":6835,"p1":6907.25}]},
 "mark":{"type":"rect","color":"#089981","opacity":0.5},
 "encoding":{"x":{"field":"a","type":"temporal","axis":null},"x2":{"field":"b"},"y":{"field":"p0","type":"quantitative","axis":null},"y2":{"field":"p1"}}},
{"data":{"format":{"parse":{"t":"utc:'%H:%M:%S'"}},"values":[{"t":"12:20:00","p":6901.2,"s":"ES1!, 1"}]},
 "mark":{"type":"text","color":"#ffffff","opacity":0.11,"fontSize":80,"align":"center","baseline":"middle"},
 "encoding":{"x":{"field":"t","type":"temporal","axis":null},"y":{"field":"p","type":"quantitative","axis":null},"text":{"field":"s"}}},
{"data":{"format":{"parse":{"t":"utc:'%H:%M:%S'"}},"values":[{"t":"12:20:00","p":6885.7,"s":"S&P 500 E-mini Futures"}]},
 "mark":{"type":"text","color":"#ffffff","opacity":0.11,"fontSize":35.5,"align":"center","baseline":"middle"},
 "encoding":{"x":{"field":"t","type":"temporal","axis":null},"y":{"field":"p","type":"quantitative","axis":null},"text":{"field":"s"}}},
{"data":{"format":{"parse":{"a":"utc:'%H:%M:%S'","b":"utc:'%H:%M:%S'"}},"values":[{"a":"08:46:48","b":"15:55:30","p":6907.25},{"a":"08:46:48","b":"15:55:30","p":6903.75},{"a":"08:46:48","b":"15:55:30","p":6819.5}]},
 "mark":{"type":"rule","color":"#000000","strokeWidth":1,"strokeDash":[1,3]},
 "encoding":{"x":{"field":"a","type":"temporal","axis":null},"x2":{"field":"b"},"y":{"field":"p","type":"quantitative","axis":null}}},
{"data":{"format":{"parse":{"a":"utc:'%H:%M:%S'","b":"utc:'%H:%M:%S'"}},"values":[{"a":"09:31:24","b":"15:53:00","p":6907.25},{"a":"09:31:24","b":"15:53:00","p":6835}]},
 "mark":{"type":"rule","color":"#000000","strokeWidth":2},
 "encoding":{"x":{"field":"a","type":"temporal","axis":null},"x2":{"field":"b"},"y":{"field":"p","type":"quantitative","axis":null}}},
{"data":{"format":{"parse":{"t":"utc:'%H:%M:%S'"}},"values":[{"t":"12:42:18"}]},
 "mark":{"type":"rule","color":"#000000","strokeWidth":2},
 "encoding":{"x":{"field":"t","type":"temporal","axis":null},"y":{"datum":6835,"type":"quantitative","axis":null},"y2":{"datum":6907.25}}},
{"data":{"format":{"parse":{"t":"utc:'%H:%M:%S'"}},"values":[{"t":"12:39:42","p":6904.7},{"t":"12:42:18","p":6907.25},{"t":"12:44:54","p":6904.7}]},
 "mark":{"type":"line","color":"#000000","strokeWidth":2},
 "encoding":{"x":{"field":"t","type":"temporal","axis":null},"y":{"field":"p","type":"quantitative","axis":null}}},
{"data":{"format":{"parse":{"t":"utc:'%H:%M'"}},"values":[{"t":"15:00","p0":6896.9,"p1":6898},{"t":"15:21","p0":6897.75,"p1":6899.75},{"t":"15:23","p0":6897.5,"p1":6898.5}]},
 "mark":{"type":"rule","color":"#2f7fc1","strokeWidth":4},
 "encoding":{"x":{"field":"t","type":"temporal","axis":null},"y":{"field":"p0","type":"quantitative","axis":null},"y2":{"field":"p1"}}},
{"mark":{"type":"rule","color":"#000000","strokeWidth":1},
 "encoding":{"x":{"field":"t","type":"temporal","axis":null},"y":{"field":"l","type":"quantitative","axis":null},"y2":{"field":"h"}}},
{"mark":{"type":"bar","size":3,"stroke":"#000000","strokeWidth":1},
 "encoding":{"x":{"field":"t","type":"temporal","axis":null},"y":{"field":"o","type":"quantitative","axis":null},"y2":{"field":"c"},
  "fill":{"condition":[{"test":"datum.k==='p'","value":"#ff5b5b"},{"test":"datum.k==='g'","value":"#68b84a"},{"test":"datum.c>=datum.o","value":"#089981"}],"value":"#000000"}}},
{"transform":[{"filter":"datum.m==='g'"}],
 "mark":{"type":"point","shape":"triangle-up","filled":true,"size":16,"opacity":1,"color":"#4caf50","yOffset":-6},
 "encoding":{"x":{"field":"t","type":"temporal","axis":null},"y":{"field":"h","type":"quantitative","axis":null}}},
{"transform":[{"filter":"datum.m==='r'"}],
 "mark":{"type":"point","shape":"triangle-down","filled":true,"size":14,"opacity":1,"color":"#ff5252","yOffset":4},
 "encoding":{"x":{"field":"t","type":"temporal","axis":null},"y":{"field":"l","type":"quantitative","axis":null}}},
{"data":{"format":{"parse":{"a":"utc:'%H:%M:%S'","b":"utc:'%H:%M:%S'"}},"values":[
 {"a":"15:55:30","b":"16:10:12","p0":6854.3,"p1":6913.73},{"a":"15:55:30","b":"16:10:12","p0":6981.85,"p1":6985.65},{"a":"15:55:30","b":"16:10:12","p0":6962.6,"p1":6966.4},{"a":"15:55:30","b":"16:10:12","p0":6936.6,"p1":6940.4},{"a":"15:55:30","b":"16:10:12","p0":6929.6,"p1":6933.4},{"a":"14:43:24","b":"15:52:48","p0":6785.3,"p1":6790.85}]},
 "mark":{"type":"rect","color":"#ffffff"},
 "encoding":{"x":{"field":"a","type":"temporal","axis":null},"x2":{"field":"b"},"y":{"field":"p0","type":"quantitative","axis":null},"y2":{"field":"p1"}}},
{"data":{"format":{"parse":{"a":"utc:'%H:%M:%S'","b":"utc:'%H:%M:%S'"}},"values":[{"a":"15:56:12","b":"16:10:24","p0":6993.4,"p1":6999.75}]},
 "mark":{"type":"rect","color":"#ffffff","stroke":"#d0d2da","cornerRadius":4},
 "encoding":{"x":{"field":"a","type":"temporal","axis":null},"x2":{"field":"b"},"y":{"field":"p0","type":"quantitative","axis":null},"y2":{"field":"p1"}}},
{"data":{"format":{"parse":{"a":"utc:'%H:%M:%S'","b":"utc:'%H:%M:%S'"}},"values":[{"a":"15:55:30","b":"16:10:12","p0":6898.4,"p1":6905.7}]},
 "mark":{"type":"rect","color":"#000000"},
 "encoding":{"x":{"field":"a","type":"temporal","axis":null},"x2":{"field":"b"},"y":{"field":"p0","type":"quantitative","axis":null},"y2":{"field":"p1"}}},
{"data":{"format":{"parse":{"t":"utc:'%H:%M:%S'"}},"values":[
 {"t":"15:57:30","p":6983.75,"s":"6,983.75"},{"t":"15:57:30","p":6964.5,"s":"6,964.50"},{"t":"15:57:30","p":6938.5,"s":"6,938.50"},{"t":"15:57:30","p":6931.5,"s":"6,931.50"},
 {"t":"15:57:30","p":6912,"s":"6,904.50"},{"t":"15:57:30","p":6908,"s":"6,904.25"},{"t":"15:57:30","p":6896.7,"s":"6,903.00"},{"t":"15:57:30","p":6892.7,"s":"6,900.75"},{"t":"15:57:30","p":6888.65,"s":"6,899.75"},{"t":"15:57:30","p":6884.55,"s":"6,899.25"},{"t":"15:57:30","p":6880.65,"s":"6,897.75"},{"t":"15:57:30","p":6876.55,"s":"6,897.50"},{"t":"15:57:30","p":6872.55,"s":"6,896.75"},{"t":"15:57:30","p":6868.6,"s":"6,896.75"},{"t":"15:57:30","p":6864.5,"s":"6,896.50"},{"t":"15:57:30","p":6860.6,"s":"6,892.25"},{"t":"15:57:30","p":6856.6,"s":"6,892.00"}]},
 "mark":{"type":"text","color":"#131722","fontSize":11.5,"align":"left","baseline":"middle"},
 "encoding":{"x":{"field":"t","type":"temporal","axis":null},"y":{"field":"p","type":"quantitative","axis":null},"text":{"field":"s"}}},
{"data":{"format":{"parse":{"t":"utc:'%H:%M:%S'"}},"values":[{"t":"15:58:30","p":6996.5,"s":"USD"}]},
 "mark":{"type":"text","color":"#131722","fontSize":11,"align":"left","baseline":"middle"},
 "encoding":{"x":{"field":"t","type":"temporal","axis":null},"y":{"field":"p","type":"quantitative","axis":null},"text":{"field":"s"}}},
{"data":{"format":{"parse":{"t":"utc:'%H:%M:%S'"}},"values":[{"t":"15:57:30","p":6903.9,"s":"6,903.75"}]},
 "mark":{"type":"text","color":"#ffffff","fontWeight":"bold","fontSize":11.5,"align":"left","baseline":"middle"},
 "encoding":{"x":{"field":"t","type":"temporal","axis":null},"y":{"field":"p","type":"quantitative","axis":null},"text":{"field":"s"}}},
{"data":{"format":{"parse":{"t":"utc:'%H:%M:%S'"}},"values":[{"t":"15:57:30","p":6900.6,"s":"00:35"}]},
 "mark":{"type":"text","color":"#c8c8c8","fontSize":11.5,"align":"left","baseline":"middle"},
 "encoding":{"x":{"field":"t","type":"temporal","axis":null},"y":{"field":"p","type":"quantitative","axis":null},"text":{"field":"s"}}},
{"data":{"format":{"parse":{"t":"utc:'%H:%M:%S'"}},"values":[{"t":"14:52:00","s":"Mon 13","p":6787.6},{"t":"15:01:00","s":"Mon","p":6787.6},{"t":"15:11:00","s":"Mon '","p":6787.6},{"t":"15:18:00","s":"Mc","p":6787.6},{"t":"15:31:00","s":"Mon 13 Apr '26","p":6787.6},{"t":"15:47:00","s":"15:36","p":6787.6}]},
 "mark":{"type":"text","color":"#131722","fontSize":11.7,"align":"center","baseline":"middle"},
 "encoding":{"x":{"field":"t","type":"temporal","axis":null},"y":{"field":"p","type":"quantitative","axis":null},"text":{"field":"s"}}},
{"data":{"format":{"parse":{"t":"utc:'%H:%M:%S'"}},"values":[{"t":"08:48:42","p":6997.5,"s":"S&P 500 E-mini Futures · 1 · CME\u00a0\u00a0O6,903.50\u00a0\u00a0H6,904.00\u00a0\u00a0L6,903.25\u00a0\u00a0C6,903.75\u00a0\u00a00.00 (0.00%)"},{"t":"08:48:42","p":6993.5,"s":"Inside Bar Ind/Alert"}]},
 "mark":{"type":"text","color":"#131722","fontSize":11.8,"align":"left","baseline":"middle"},
 "encoding":{"x":{"field":"t","type":"temporal","axis":null},"y":{"field":"p","type":"quantitative","axis":null},"text":{"field":"s"}}},
{"data":{"format":{"parse":{"t":"utc:'%H:%M:%S'"}},"values":[{"t":"09:16:42","p":6993.5,"s":"1.00"}]},
 "mark":{"type":"text","color":"#4caf50","fontSize":11.8,"align":"left","baseline":"middle"},
 "encoding":{"x":{"field":"t","type":"temporal","axis":null},"y":{"field":"p","type":"quantitative","axis":null},"text":{"field":"s"}}},
{"data":{"format":{"parse":{"t":"utc:'%H:%M:%S'"}},"values":[{"t":"09:24:00","p":6993.5,"s":"0.00"}]},
 "mark":{"type":"text","color":"#ff5252","fontSize":11.8,"align":"left","baseline":"middle"},
 "encoding":{"x":{"field":"t","type":"temporal","axis":null},"y":{"field":"p","type":"quantitative","axis":null},"text":{"field":"s"}}},
{"data":{"format":{"parse":{"t":"utc:'%H:%M:%S'"}},"values":[{"t":"15:39:00","p":6793.95}]},
 "mark":{"type":"point","shape":"circle","filled":true,"size":340,"opacity":1,"fill":"#ffffff","stroke":"#9c27b0","strokeWidth":2.5},
 "encoding":{"x":{"field":"t","type":"temporal","axis":null},"y":{"field":"p","type":"quantitative","axis":null}}},
{"data":{"format":{"parse":{"t":"utc:'%H:%M:%S'"}},"values":[{"t":"15:39:01","p":6793.9}]},
 "mark":{"type":"point","shape":"M.2,-.6 L-.4,.1 H0 L-.2,.6 L.4,-.1 H0 Z","filled":true,"size":400,"opacity":1,"color":"#9c27b0"},
 "encoding":{"x":{"field":"t","type":"temporal","axis":null},"y":{"field":"p","type":"quantitative","axis":null}}},
{"data":{"format":{"parse":{"t":"utc:'%H:%M:%S'"}},"values":[{"t":"15:40:30","p":6795.6}]},
 "mark":{"type":"point","shape":"circle","filled":true,"size":40,"opacity":1,"color":"#f23645"},
 "encoding":{"x":{"field":"t","type":"temporal","axis":null},"y":{"field":"p","type":"quantitative","axis":null}}},
{"data":{"format":{"parse":{"t":"utc:'%H:%M:%S'"}},"values":[{"t":"08:50:42","p":6776.7}]},
 "mark":{"type":"point","shape":"M-1,-.5 H-.2 V.5 H-.55 V-.05 H-1 Z M-.02,-.44 a.14,.14 0 1 0 .001,0 Z M.42,-.5 H.8 L.38,.5 H0 Z","filled":true,"size":576,"opacity":1,"color":"#ffffff"},
 "encoding":{"x":{"field":"t","type":"temporal","axis":null},"y":{"field":"p","type":"quantitative","axis":null}}},
{"data":{"format":{"parse":{"t":"utc:'%H:%M:%S'"}},"values":[{"t":"08:54:54","p":6776.7,"s":"TradingView"}]},
 "mark":{"type":"text","color":"#ffffff","fontSize":21,"fontWeight":600,"align":"left","baseline":"middle"},
 "encoding":{"x":{"field":"t","type":"temporal","axis":null},"y":{"field":"p","type":"quantitative","axis":null},"text":{"field":"s"}}}
]
}
